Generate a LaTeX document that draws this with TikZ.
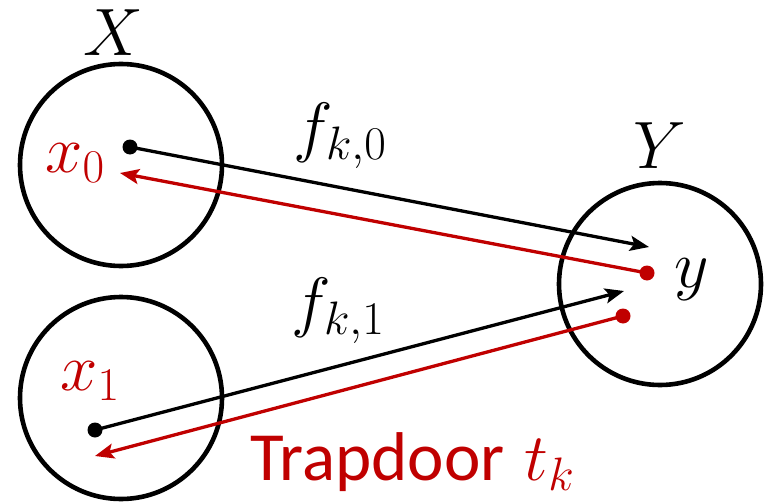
\documentclass[tikz,border=0pt]{standalone}
\usepackage{fix-cm}
\usepackage{fontspec}
\newfontfamily\calib{Carlito}
\usetikzlibrary{arrows.meta}
\definecolor{dred}{HTML}{C00000}
\begin{document}
\begin{tikzpicture}[x=1pt,y=-1pt,
  setc/.style={circle,draw=black,line width=4.6pt,minimum size=202pt,inner sep=0pt},
  lbl/.style={inner sep=0pt,font=\fontsize{67}{70}\selectfont},
  dotb/.style={circle,fill=black,minimum size=15pt,inner sep=0pt},
  dotr/.style={circle,fill=dred,minimum size=15pt,inner sep=0pt},
  fwd/.style={line width=3.3pt,-{Stealth[length=19pt,width=15pt,inset=4pt]}},
  bwd/.style={line width=3.3pt,dred,-{Stealth[length=19pt,width=15pt,inset=4pt]}}]
\useasboundingbox (0,0) rectangle (769,503);
\node[setc] (X0) at (121,165) {};
\node[setc] (X1) at (121,398) {};
\node[setc] (Yc) at (660,284) {};
\node[lbl] (Xl) at (113,33) {$X$};
\node[lbl] (Yl) at (660,146) {$Y$};
\node[lbl,text=dred] (x0l) at (75,163) {$x_0$};
\node[lbl,text=dred] (x1l) at (90,381) {$x_1$};
\node[lbl] (yl) at (692,280) {$y$};
\node[lbl] (f0) at (340,136) {$f_{k,0}$};
\node[lbl] (f1) at (338,311) {$f_{k,1}$};
\node[lbl,text=dred,anchor=base west] (tl) at (250,480) {{\calib\fontsize{69}{72}\selectfont Trapdoor} $t_k$};
\node[dotb] (d0) at (130,147) {};
\node[dotb] (d1) at (95,430) {};
\node[dotr] (r0) at (647,273) {};
\node[dotr] (r1) at (623,316) {};
\coordinate (a0) at (649,247);
\coordinate (a1) at (624,291);
\coordinate (b0) at (120,173);
\coordinate (b1) at (95,456);
\draw[fwd] (d0.center) -- (a0);
\draw[fwd] (d1.center) -- (a1);
\draw[bwd] (r0.center) -- (b0);
\draw[bwd] (r1.center) -- (b1);
\end{tikzpicture}
\end{document}
